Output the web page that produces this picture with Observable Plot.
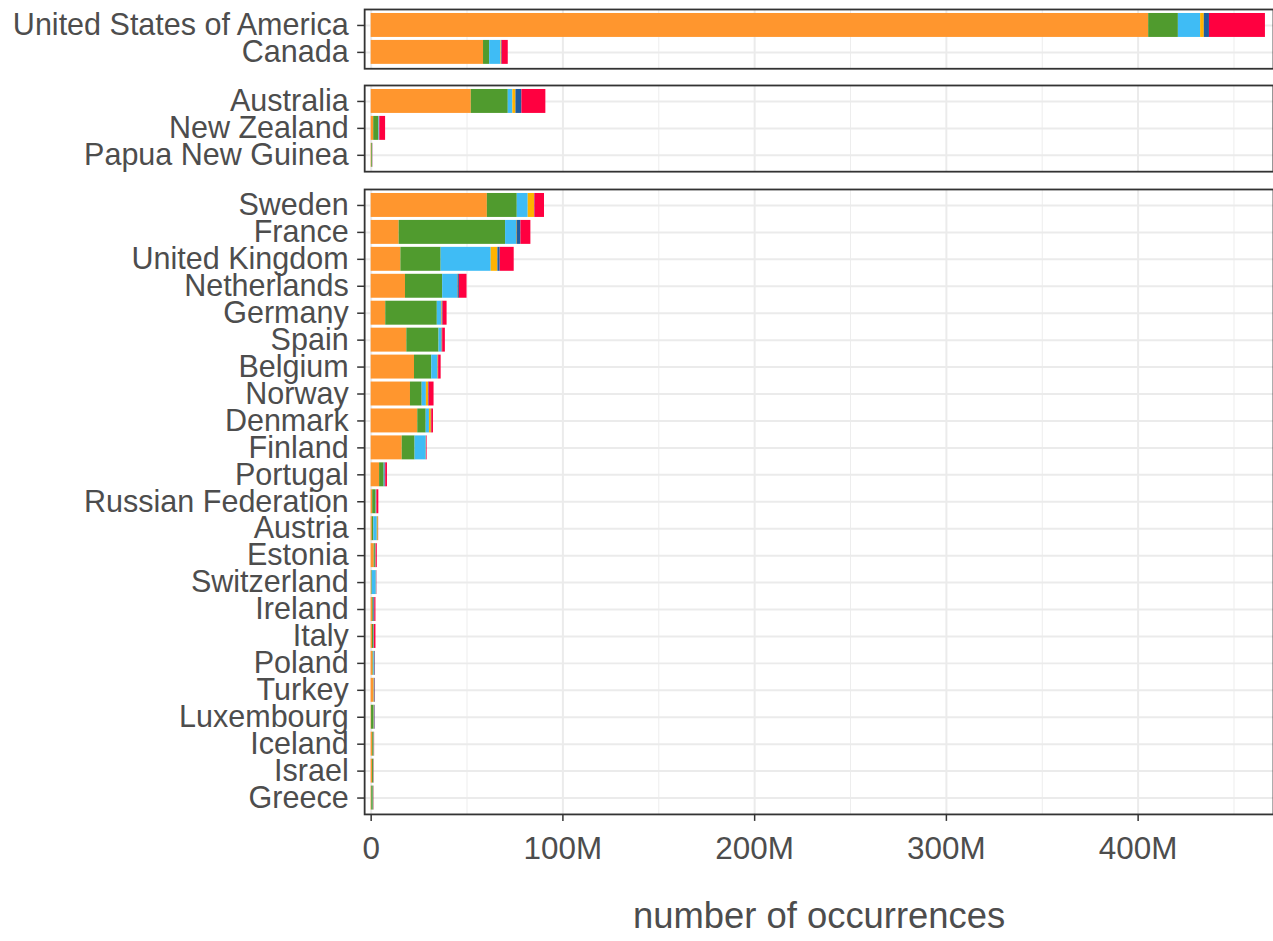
<!DOCTYPE html>
<html>
<head>
<meta charset="utf-8">
<script src="https://cdn.jsdelivr.net/npm/d3@7"></script>
<script src="https://cdn.jsdelivr.net/npm/@observablehq/plot@0.6"></script>
<style>
  html, body { margin: 0; padding: 0; background: #ffffff; overflow: hidden; }
  #chart { position: relative; width: 1273px; height: 941px; overflow: hidden; }
  #chart svg { position: absolute; left: 0; overflow: visible; }
</style>
</head>
<body>
<div id="chart"></div>
<script>
// ---- data (values in millions of occurrences) ----
const northAmerica = ["United States of America", "Canada"];
const oceania = ["Australia", "New Zealand", "Papua New Guinea"];
const europe = ["Sweden", "France", "United Kingdom", "Netherlands", "Germany", "Spain", "Belgium", "Norway", "Denmark", "Finland", "Portugal", "Russian Federation", "Austria", "Estonia", "Switzerland", "Ireland", "Italy", "Poland", "Turkey", "Luxembourg", "Iceland", "Israel", "Greece"];
const countries = [...northAmerica, ...oceania, ...europe];

const seriesNames = ["series 1", "series 2", "series 3", "series 4", "series 5", "series 6"];
const seriesColors = ["#FF962E", "#509B2E", "#3FBCF5", "#FFB300", "#1F5C9E", "#FF0040"];

const orangeValues    = [405.5, 58.6, 52.2, 1.3, 0.3, 60.6, 14.6, 15.5, 17.9, 7.6, 18.6, 22.6, 20.5, 24.3, 16.2, 4.4, 0.8, 0.6, 1.6, 0.3, 0.8, 0.7, 1.0, 1.5, 0.2, 0.8, 0.7, 0.3];
const greenValues     = [15.5, 3.2, 19.3, 2.5, 0.4, 15.6, 55.5, 21.0, 19.4, 26.9, 16.8, 9.0, 6.1, 4.4, 6.7, 2.4, 1.8, 0.8, 0.6, 0.3, 0.4, 0.6, 0.3, 0.1, 1.3, 0.6, 0.5, 0.8];
const lightBlueValues = [11.6, 5.9, 2.4, 0.4, 0.1, 5.7, 5.7, 26.1, 7.8, 2.3, 1.4, 3.1, 2.2, 1.7, 5.8, 0.3, 0.2, 1.8, 0.2, 2.1, 0.1, 0.1, 0.4, 0.1, 0.1, 0.1, 0.1, 0.1];
const yellowValues    = [1.9, 0.3, 1.6, 0.1, 0.0, 3.3, 0.3, 3.5, 0.2, 0.3, 0.2, 0.3, 1.1, 1.0, 0.1, 0.1, 0.1, 0.5, 0.1, 0.1, 0.1, 0.1, 0.1, 0.1, 0.1, 0.1, 0.1, 0.1];
const darkBlueValues  = [2.7, 0.3, 3.1, 0.2, 0.0, 0.2, 2.0, 1.2, 0.7, 0.4, 0.3, 0.2, 0.3, 0.2, 0.1, 0.4, 0.1, 0.1, 0.1, 0.1, 0.5, 0.2, 0.3, 0.3, 0.3, 0.1, 0.1, 0.1];
const redValues       = [29.2, 3.2, 12.5, 3.0, 0.1, 5.0, 5.2, 7.3, 4.0, 2.1, 1.4, 1.3, 2.6, 0.9, 0.3, 0.9, 1.0, 0.1, 0.6, 0.1, 0.6, 0.8, 0.1, 0.1, 0.1, 0.1, 0.1, 0.1];

const xTicks = [0, 100, 200, 300, 400];
const xTickLabels = ["0", "100M", "200M", "300M", "400M"];
const xMinorTicks = [50, 150, 250, 350, 450];
const xTitle = "number of occurrences";

// ---- build table ----
const valueArrays = [orangeValues, greenValues, lightBlueValues, yellowValues, darkBlueValues, redValues];
const rows = countries.flatMap((c, i) => seriesNames.map((s, j) => ({country: c, series: s, value: valueArrays[j][i]})));

// ---- layout ----
const font = "'Liberation Sans', Arial, Helvetica, sans-serif";
const unit = 27;
const panels = [
  {domain: northAmerica, top: 9.3},
  {domain: oceania, top: 85.3},
  {domain: europe, top: 188.6}
];
const chart = document.getElementById("chart");

panels.forEach((p, k) => {
  const last = k === panels.length - 1;
  const innerH = (p.domain.length + 0.2) * unit;
  const mTop = 2;
  const mBottom = last ? 126 : 2;
  const set = new Set(p.domain);
  const svg = Plot.plot({
    width: 1276,
    height: innerH + mTop + mBottom,
    marginLeft: 365,
    marginRight: 0,
    marginTop: mTop,
    marginBottom: mBottom,
    style: {fontFamily: font, background: "transparent"},
    x: {domain: [-3.4, 470.6], axis: null},
    y: {domain: p.domain, paddingInner: 0.1, paddingOuter: 0.15, axis: null},
    color: {domain: seriesNames, range: seriesColors},
    marks: [
      Plot.gridX(xMinorTicks, {stroke: "#EDEDED", strokeOpacity: 1, strokeWidth: 1}),
      Plot.gridX(xTicks, {stroke: "#EBEBEB", strokeOpacity: 1, strokeWidth: 2}),
      Plot.gridY(p.domain, {stroke: "#EBEBEB", strokeOpacity: 1, strokeWidth: 2}),
      Plot.barX(rows.filter(d => set.has(d.country)), {x: "value", y: "country", fill: "series"}),
      Plot.frame({stroke: "#333333", strokeWidth: 1.8}),
      Plot.axisY(p.domain, {tickSize: 7, tickPadding: 9, fontSize: 30.6, stroke: "#333333", strokeWidth: 1.5, fill: "#4D4D4D", label: null}),
      last ? Plot.axisX(xTicks, {tickSize: 7, tickPadding: 15, fontSize: 31.5, stroke: "#333333", strokeWidth: 1.5, fill: "#4D4D4D",
        tickFormat: (d) => xTickLabels[xTicks.indexOf(d)], label: null}) : null,
      last ? Plot.text([xTitle], {frameAnchor: "bottom", dy: 102, fontSize: 36.5, fill: "#4D4D4D", lineAnchor: "middle"}) : null
    ]
  });
  svg.style.top = (p.top - mTop) + "px";
  chart.appendChild(svg);
});
</script>
</body>
</html>
